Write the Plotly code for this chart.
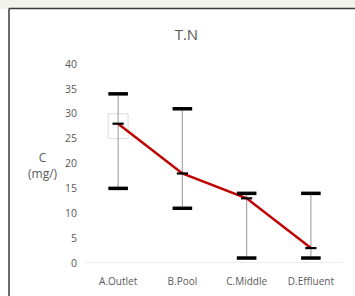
import plotly.graph_objects as go

categories = ["A.Outlet", "B.Pool", "C.Middle", "D.Effluent"]
mean_vals = [28, 18, 13, 3]
max_vals = [34, 31, 14, 14]
min_vals = [15, 11, 1, 1]
y_ticks = [0, 5, 10, 15, 20, 25, 30, 35, 40]

fig = go.Figure()

# vertical high-low lines
for c, lo, hi in zip(categories, min_vals, max_vals):
    fig.add_trace(go.Scatter(x=[c, c], y=[lo, hi], mode="lines",
                             line=dict(color="#a6a6a6", width=1.2),
                             hoverinfo="skip", showlegend=False))

# mean line
fig.add_trace(go.Scatter(x=categories, y=mean_vals, mode="lines",
                         line=dict(color="#c00000", width=2.5),
                         showlegend=False))

# caps
fig.add_trace(go.Scatter(x=categories, y=max_vals, mode="markers",
                         marker=dict(symbol="line-ew", size=14,
                                     line=dict(color="black", width=3.5)),
                         showlegend=False))
fig.add_trace(go.Scatter(x=categories, y=min_vals, mode="markers",
                         marker=dict(symbol="line-ew", size=14,
                                     line=dict(color="black", width=3.5)),
                         showlegend=False))
# mean markers
fig.add_trace(go.Scatter(x=categories, y=mean_vals, mode="markers",
                         marker=dict(symbol="line-ew", size=8,
                                     line=dict(color="black", width=2.2)),
                         showlegend=False))

font_fam = "Open Sans, Roboto, sans-serif"

fig.update_layout(
    width=355, height=296,
    margin=dict(l=86, r=12, t=64, b=33),
    paper_bgcolor="#f3f3ee",
    plot_bgcolor="white",
    title=dict(text="T.N", x=0.525, xanchor="center", y=1 - 35/296, yanchor="middle",
               font=dict(family=font_fam, size=15, color="#595959")),
    xaxis=dict(type="category", categoryorder="array", categoryarray=categories,
               range=[-0.5, 3.5], showgrid=False, zeroline=False, automargin=False,
               showline=False, ticks="", ticklabelstandoff=11,
               tickfont=dict(family=font_fam, size=10, color="#595959")),
    yaxis=dict(range=[0, 40], tickvals=y_ticks, showgrid=False, zeroline=False,
               showline=False, ticks="", ticklabelstandoff=8, automargin=False,
               tickfont=dict(family=font_fam, size=10.5, color="#595959")),
    shapes=[
        dict(type="rect", xref="paper", yref="paper", layer="below",
             x0=-86/257, x1=1 + 12/257, y0=-33/199, y1=1 + (64-9)/199,
             fillcolor="white", line=dict(width=0)),
        dict(type="line", xref="paper", yref="paper",
             x0=-77/257, x1=-77/257, y0=-33/199, y1=1 + (64-8.5)/199,
             line=dict(color="#3a3a3a", width=1.5)),
        dict(type="line", xref="paper", yref="paper",
             x0=-77/257, x1=1 + 12/257, y0=1 + (64-8.5)/199, y1=1 + (64-8.5)/199,
             line=dict(color="#3a3a3a", width=1.5)),
        dict(type="line", xref="paper", yref="y", x0=0, x1=1, y0=0, y1=0,
             line=dict(color="#d9d9d9", width=1), layer="below"),
        dict(type="rect", xref="x", yref="y", x0=-0.155, x1=0.155, y0=25, y1=30,
             line=dict(color="#dcdcdc", width=1), layer="below"),
    ],
    annotations=[
        dict(text="C<br>(mg/)", xref="paper", yref="paper",
             x=-43/257, y=(263-165)/199, xanchor="center", yanchor="middle",
             showarrow=False, align="center",
             font=dict(family=font_fam, size=12, color="#595959")),
    ],
)

fig.write_html(
    "out.html",
    config={"displayModeBar": False},
    post_script="document.body.style.margin='0';document.body.style.background='#f3f3ee';",
)
